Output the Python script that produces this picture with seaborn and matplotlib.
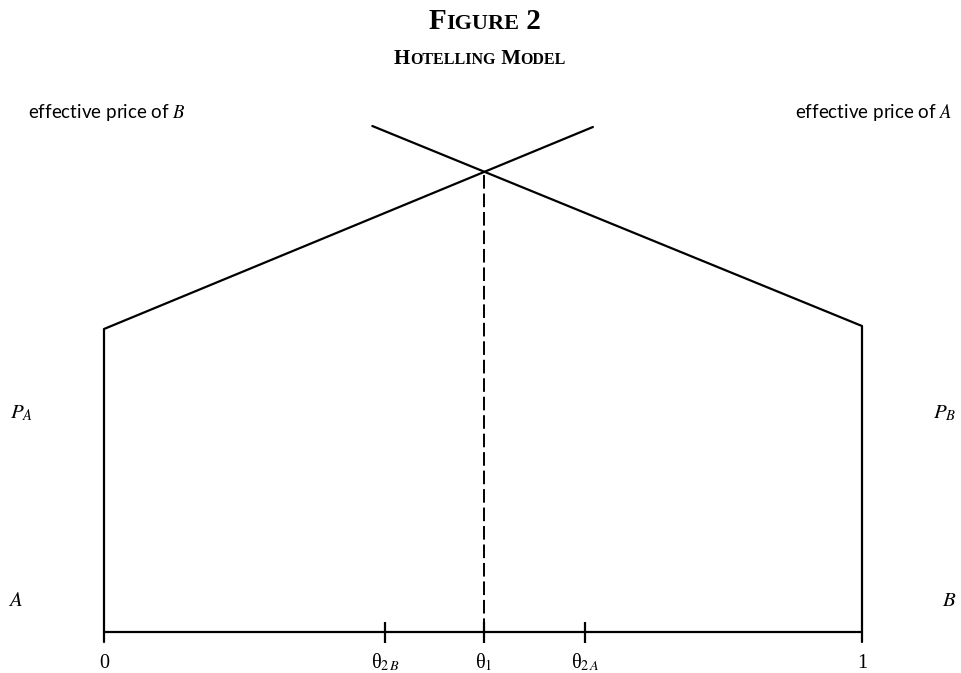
import matplotlib
matplotlib.use("Agg")
import matplotlib.pyplot as plt
import matplotlib.transforms as mtransforms
import seaborn as sns
import pandas as pd

# ---------------- data ----------------
# horizontal unit: consumer location on [0, 1]; vertical: price level
ends_x = [0.0, 1.0]
end_labels = ["0", "1"]
price_A = 3.03            # P_A : height of left vertical
price_B = 3.06            # P_B : height of right vertical
theta_1 = 0.501           # crossing point
theta_1_level = 4.60
# effective price of B rises from A's end (left) toward the right
line_from_A_x = [0.0, 0.0, 0.645]
line_from_A_y = [-0.10, price_A, 5.05]
# effective price of A rises from B's end (right) toward the left
line_from_B_x = [1.0, 1.0, 0.354]
line_from_B_y = [-0.10, price_B, 5.06]
tick_x = [0.371, theta_1, 0.635]
tick_labels = ["θ${}_{2\\,B}$", "θ${}_{1}$", "θ${}_{2\\,A}$"]

# ---------------- style ----------------
sns.set_style("white")
plt.rcParams["font.family"] = ["Liberation Serif", "DejaVu Serif"]
plt.rcParams["mathtext.fontset"] = "stix"
plt.rcParams["text.color"] = "black"

W, H = 962, 673
fig = plt.figure(figsize=(W / 100, H / 100), dpi=100)
ax = fig.add_axes([0, 0, 1, 1])
ax.axis("off")

lw = 1.6
df_a = pd.DataFrame({"x": line_from_A_x, "y": line_from_A_y})
df_b = pd.DataFrame({"x": line_from_B_x, "y": line_from_B_y})
df_axis = pd.DataFrame({"x": ends_x, "y": [0.0, 0.0]})
df_dash = pd.DataFrame({"x": [theta_1, theta_1], "y": [0.0, theta_1_level]})

sns.lineplot(data=df_a, x="x", y="y", sort=False, estimator=None, color="black", lw=lw, ax=ax)
sns.lineplot(data=df_b, x="x", y="y", sort=False, estimator=None, color="black", lw=lw, ax=ax)
sns.lineplot(data=df_axis, x="x", y="y", sort=False, estimator=None, color="black", lw=lw, ax=ax)
ax.plot(df_dash["x"], df_dash["y"], color="black", lw=1.4, dashes=(7, 2.5))
ax.vlines(tick_x, -0.11, 0.10, color="black", lw=lw)
ax.set_xlim(-104 / 758, 858 / 758)
ax.set_ylim(-0.41, 6.32)
ax.axis("off")

# tick labels
for x, lab in zip(ends_x + tick_x, end_labels + tick_labels):
    ax.text(x, -0.36, lab, ha="center", va="baseline", fontsize=14.5, color="black")

# side labels
lab_font = ["Lato", "DejaVu Sans"]
fs = 13.5
ax.text(-0.1003, 5.14, "effective price of $B$", ha="left", va="baseline",
        fontsize=fs, family=lab_font, color="black")
ax.text(1.12, 5.14, "effective price of $A$", ha="right", va="baseline",
        fontsize=fs, family=lab_font, color="black")
ax.text(-0.124, 2.14, "$P_A$", ha="left", va="baseline", fontsize=15, color="black")
ax.text(1.125, 2.14, "$P_B$", ha="right", va="baseline", fontsize=15, color="black")
ax.text(-0.1266, 0.26, "$A$", ha="left", va="baseline", fontsize=15, color="black")
ax.text(1.125, 0.26, "$B$", ha="right", va="baseline", fontsize=15, color="black")

renderer = fig.canvas.get_renderer()
ident = mtransforms.IdentityTransform()


def small_caps(parts, cx_px, baseline_from_top, weight):
    """Place pieces side by side with a common baseline, centred at cx_px."""
    y_disp = H - baseline_from_top
    texts, widths = [], []
    for t, s in parts:
        txt = fig.text(0, y_disp, t, fontsize=s, fontweight=weight, color="black",
                       transform=ident, ha="left", va="baseline")
        widths.append(txt.get_window_extent(renderer).width)
        texts.append(txt)
    x = cx_px - sum(widths) / 2
    for txt, w in zip(texts, widths):
        txt.set_x(x)
        x += w


small_caps([("F", 21), ("IGURE", 16), ("\u00a02", 21)], 485, 29, "bold")
small_caps([("H", 15), ("OTELLING", 11.5), ("\u00a0M", 15), ("ODEL", 11.5)], 480, 64, "bold")

fig.savefig("out.png", dpi=100)
